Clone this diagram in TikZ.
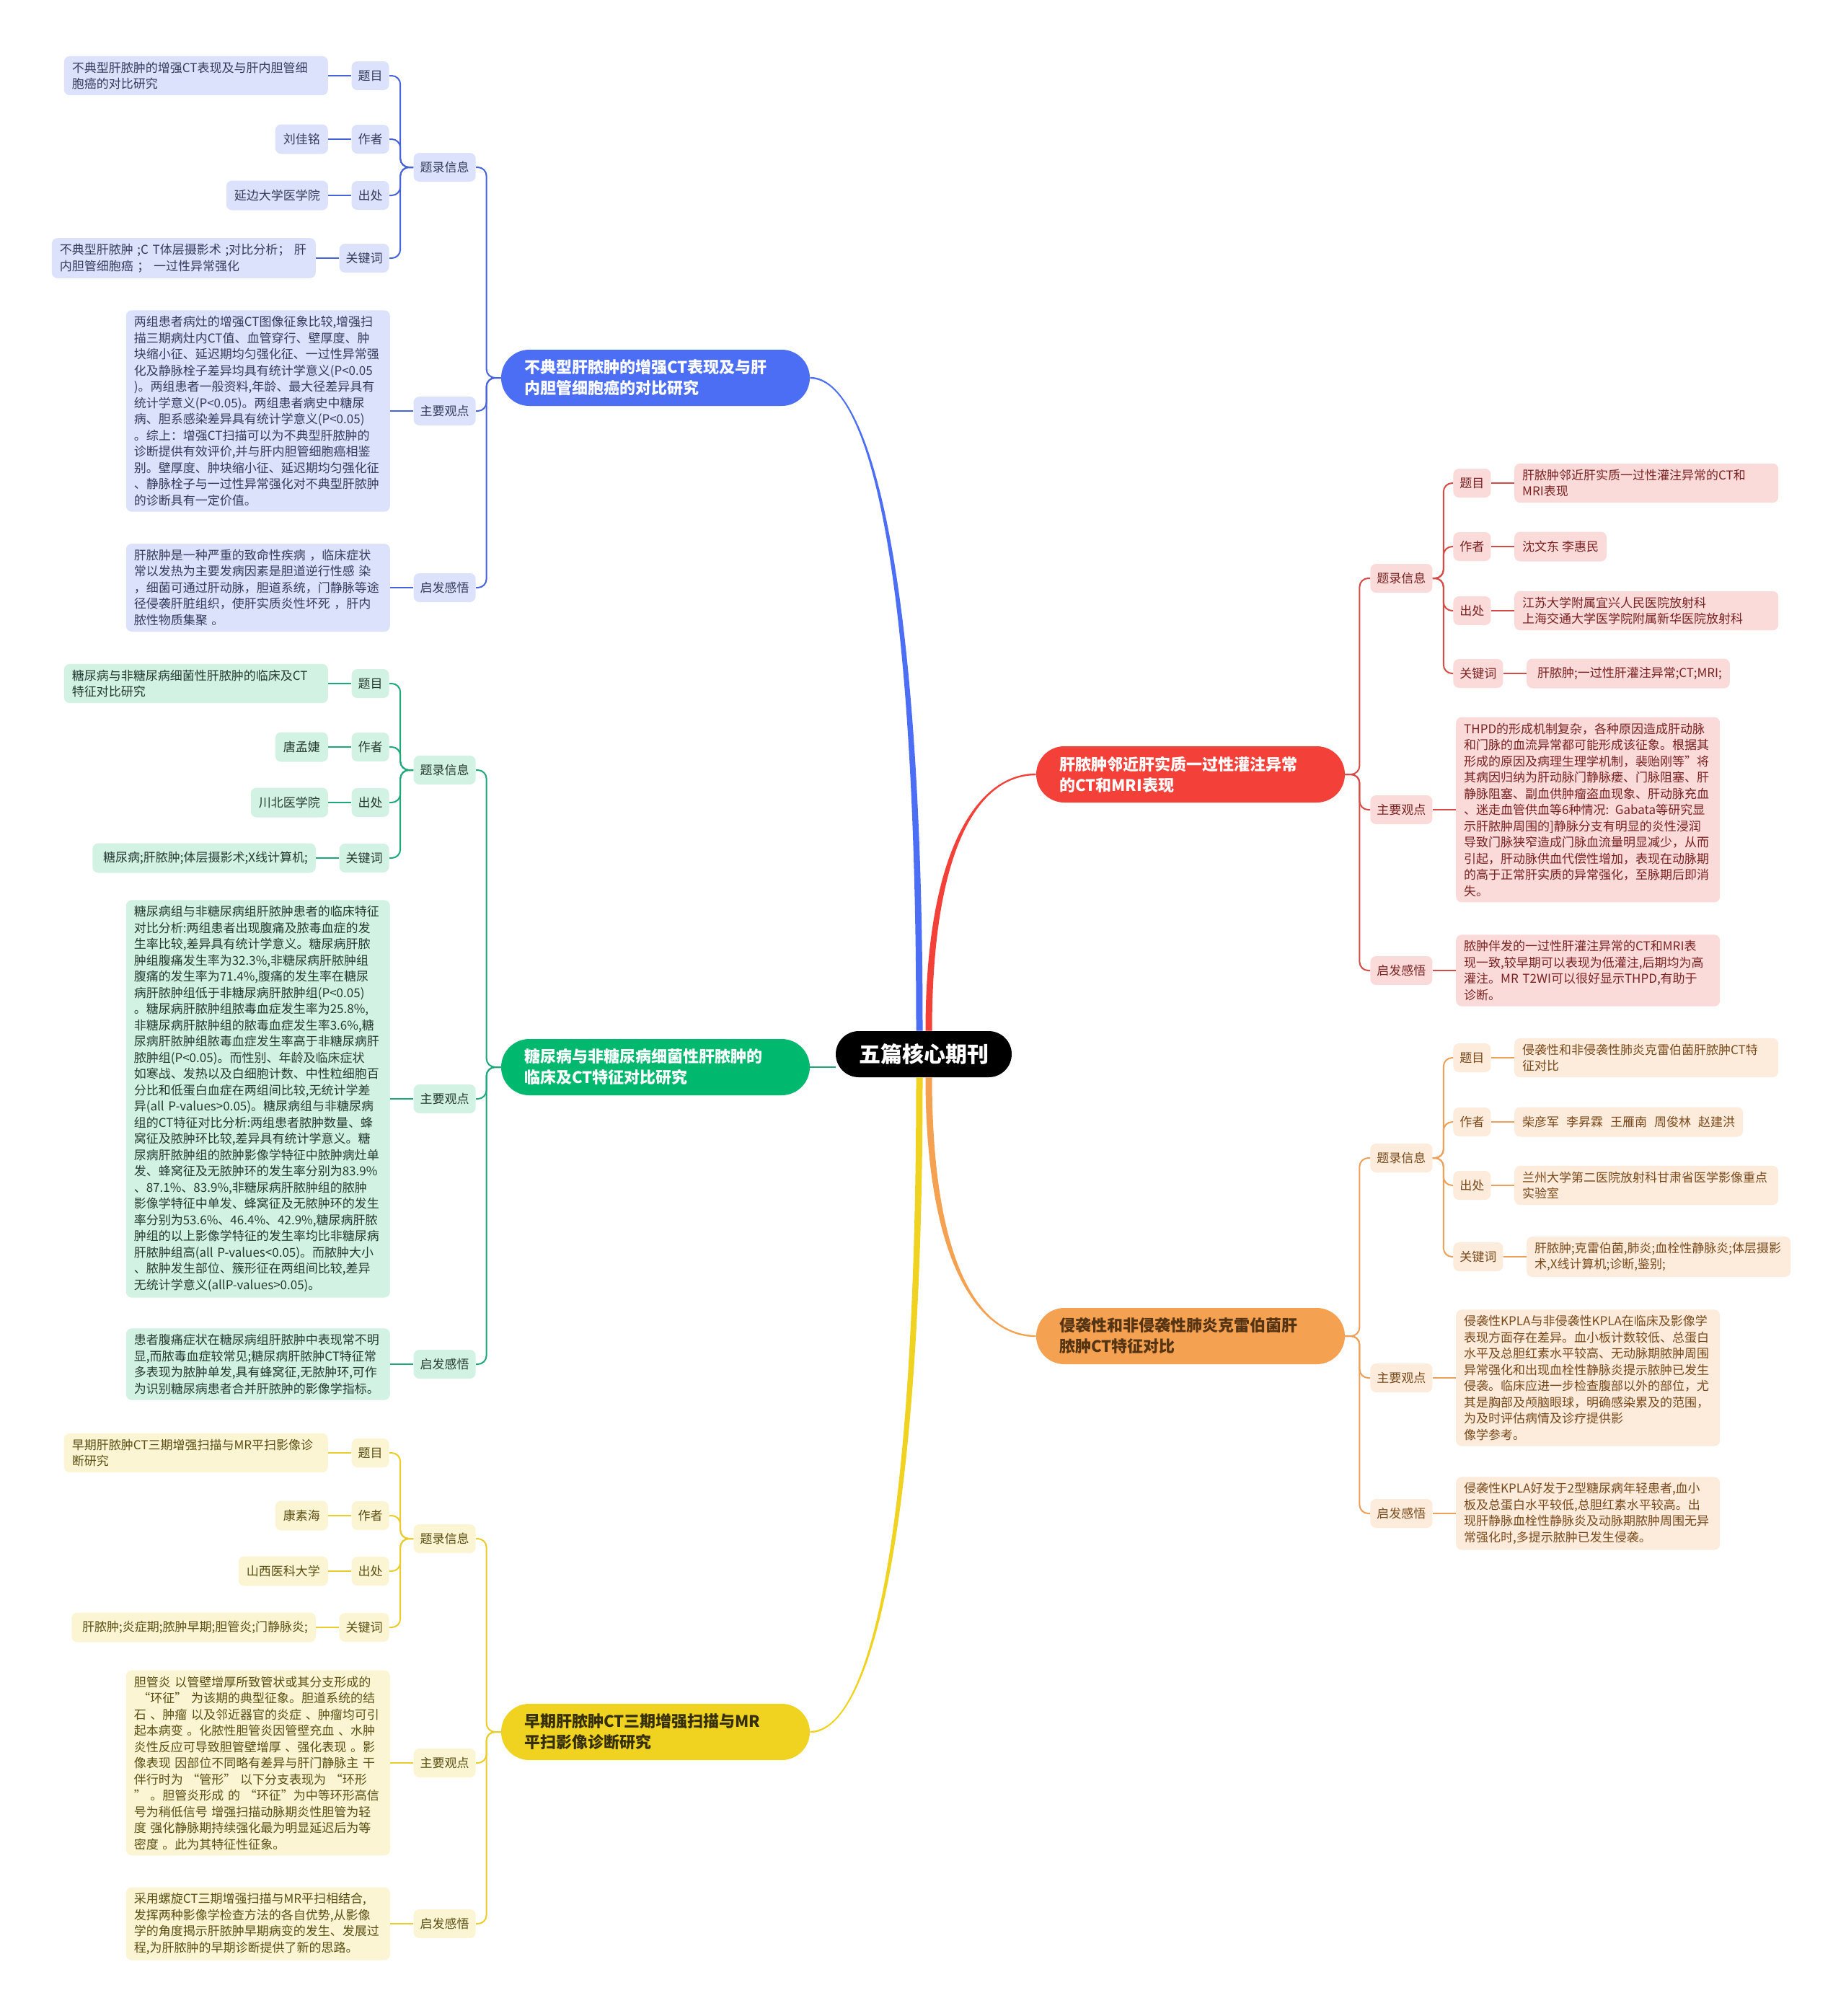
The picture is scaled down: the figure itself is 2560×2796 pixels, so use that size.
\documentclass[tikz,border=0pt]{standalone}
\usepackage{fontspec}
\setmainfont{Noto Sans CJK SC}
\usepackage{tikz}
\usetikzlibrary{positioning,calc}

\definecolor{bluF}{HTML}{4C6EF5}
\definecolor{bluL}{HTML}{DCE2FC}
\definecolor{bluE}{HTML}{4763DB}
\definecolor{bluT}{HTML}{353B5E}
\definecolor{grnF}{HTML}{00B86E}
\definecolor{grnL}{HTML}{D2F2E3}
\definecolor{grnE}{HTML}{1EA878}
\definecolor{grnT}{HTML}{263A32}
\definecolor{ylwF}{HTML}{F0D320}
\definecolor{ylwL}{HTML}{FBF5D3}
\definecolor{ylwE}{HTML}{EACD2C}
\definecolor{ylwT}{HTML}{5A4E12}
\definecolor{redF}{HTML}{F3413A}
\definecolor{redL}{HTML}{FBDADA}
\definecolor{redE}{HTML}{D84A45}
\definecolor{redT}{HTML}{7A2222}
\definecolor{orgF}{HTML}{F5A152}
\definecolor{orgL}{HTML}{FDEBDB}
\definecolor{orgE}{HTML}{EE9F58}
\definecolor{orgT}{HTML}{7A4A1C}

% tapered branch from the centre: colour, start, end, end offsets
\newcommand{\branchline}[5]{%
  \path #2 coordinate (tS) #3 coordinate (tE) (tS |- tE) coordinate (tK);
  \path ($(tS)!0.7!(tK)$) coordinate (tA) ($(tE)!0.55!(tK)$) coordinate (tB);
  \fill[#1] ($(tS)+(-4.5,0)$) .. controls ($(tA)+(-4.5,0)$) and ($(tB)+(0,#4)$) .. ($(tE)+(0,#4)$)
    -- ($(tE)+(0,#5)$) .. controls ($(tB)+(0,#5)$) and ($(tA)+(4.5,0)$) .. ($(tS)+(4.5,0)$) -- cycle;
}

\begin{document}
\begin{tikzpicture}[
  x=0.5pt, y=-0.5pt,
  node distance=16pt,
  every node/.style={font=\fontsize{8.5}{11.25}\selectfont},
  tag/.style={rounded corners=4pt, inner xsep=4.5pt, inner ysep=0pt, minimum height=20pt},
  leaf/.style={rounded corners=4pt, inner xsep=5.5pt, inner ysep=4pt, minimum height=20.5pt, align=left},
  para/.style={leaf, text width=172pt},
  topic/.style={rounded corners=19.5pt, minimum height=39pt, inner xsep=16pt, inner ysep=3pt, text width=182pt, align=left, font=\fontsize{11}{14.5}\selectfont\bfseries},
  lnk/.style={line width=1pt, rounded corners=6pt},
  blu/.style={fill=bluL, text=bluT},
  grn/.style={fill=grnL, text=grnT},
  ylw/.style={fill=ylwL, text=ylwT},
  red/.style={fill=redL, text=redT},
  org/.style={fill=orgL, text=orgT}
]
\fill[white] (0,0) rectangle (2560,2796);
\useasboundingbox (0,0) rectangle (2560,2796);

\node[fill=black, text=white, rounded corners=16pt, minimum width=122pt, minimum height=32pt, font=\fontsize{15}{18}\selectfont\bfseries] (ctr) at (1281,1462) {五篇核心期刊};

% ---- left: CT study (blue)
\node[topic, fill=bluF, text=white] (ct) at (909,524) {不典型肝脓肿的增强CT表现及与肝\\内胆管细胞癌的对比研究};
\node[tag, blu, anchor=east] (ct-info) at (660,232) {题录信息};
\node[tag, blu, anchor=east] (ct-view) at (660,570) {主要观点};
\node[tag, blu, anchor=east] (ct-note) at (660,815) {启发感悟};
\node[tag, blu, anchor=east] (ct-title) at (540,105) {题目};
\node[tag, blu, anchor=east] (ct-author) at (540,193) {作者};
\node[tag, blu, anchor=east] (ct-src) at (540,271) {出处};
\node[tag, blu, anchor=east] (ct-key) at (540,358) {关键词};
\node[para, blu, left=of ct-title] (ct-title-txt) {不典型肝脓肿的增强CT表现及与肝内胆管细\\胞癌的对比研究};
\node[leaf, blu, left=of ct-author] (ct-author-txt) {刘佳铭};
\node[leaf, blu, left=of ct-src] (ct-src-txt) {延边大学医学院};
\node[para, blu, left=of ct-key] (ct-key-txt) {不典型肝脓肿 ;C T体层摄影术 ;对比分析；\ 肝\\内胆管细胞癌 ；\ 一过性异常强化};
\node[para, blu, left=of ct-view] (ct-view-txt) {两组患者病灶的增强CT图像征象比较,增强扫\\描三期病灶内CT值、血管穿行、壁厚度、肿\\块缩小征、延迟期均匀强化征、一过性异常强\\化及静脉栓子差异均具有统计学意义(P<0.05\\)。两组患者一般资料,年龄、最大径差异具有\\统计学意义(P<0.05)。两组患者病史中糖尿\\病、胆系感染差异具有统计学意义(P<0.05)\\。综上：增强CT扫描可以为不典型肝脓肿的\\诊断提供有效评价,并与肝内胆管细胞癌相鉴\\别。壁厚度、肿块缩小征、延迟期均匀强化征\\、静脉栓子与一过性异常强化对不典型肝脓肿\\的诊断具有一定价值。};
\node[para, blu, left=of ct-note] (ct-note-txt) {肝脓肿是一种严重的致命性疾病 ，临床症状\\常以发热为主要发病因素是胆道逆行性感 染\\，细菌可通过肝动脉，胆道系统，门静脉等途\\径侵袭肝脏组织，使肝实质炎性坏死 ，肝内\\脓性物质集聚 。};

% ---- left: diabetes study (green)
\node[topic, fill=grnF, text=white] (dm) at (909,1480) {糖尿病与非糖尿病细菌性肝脓肿的\\临床及CT特征对比研究};
\node[tag, grn, anchor=east] (dm-info) at (660,1068) {题录信息};
\node[tag, grn, anchor=east] (dm-view) at (660,1524) {主要观点};
\node[tag, grn, anchor=east] (dm-note) at (660,1892) {启发感悟};
\node[tag, grn, anchor=east] (dm-title) at (540,948) {题目};
\node[tag, grn, anchor=east] (dm-author) at (540,1036) {作者};
\node[tag, grn, anchor=east] (dm-src) at (540,1113) {出处};
\node[tag, grn, anchor=east] (dm-key) at (540,1190) {关键词};
\node[para, grn, left=of dm-title] (dm-title-txt) {糖尿病与非糖尿病细菌性肝脓肿的临床及CT\\特征对比研究};
\node[leaf, grn, left=of dm-author] (dm-author-txt) {唐孟婕};
\node[leaf, grn, left=of dm-src] (dm-src-txt) {川北医学院};
\node[leaf, grn, left=of dm-key] (dm-key-txt) {\ 糖尿病;肝脓肿;体层摄影术;X线计算机;};
\node[para, grn, left=of dm-view] (dm-view-txt) {糖尿病组与非糖尿病组肝脓肿患者的临床特征\\对比分析:两组患者出现腹痛及脓毒血症的发\\生率比较,差异具有统计学意义。糖尿病肝脓\\肿组腹痛发生率为32.3\%,非糖尿病肝脓肿组\\腹痛的发生率为71.4\%,腹痛的发生率在糖尿\\病肝脓肿组低于非糖尿病肝脓肿组(P<0.05)\\。糖尿病肝脓肿组脓毒血症发生率为25.8\%,\\非糖尿病肝脓肿组的脓毒血症发生率3.6\%,糖\\尿病肝脓肿组脓毒血症发生率高于非糖尿病肝\\脓肿组(P<0.05)。而性别、年龄及临床症状\\如寒战、发热以及白细胞计数、中性粒细胞百\\分比和低蛋白血症在两组间比较,无统计学差\\异(all P-values>0.05)。糖尿病组与非糖尿病\\组的CT特征对比分析:两组患者脓肿数量、蜂\\窝征及脓肿环比较,差异具有统计学意义。糖\\尿病肝脓肿组的脓肿影像学特征中脓肿病灶单\\发、蜂窝征及无脓肿环的发生率分别为83.9\%\\、87.1\%、83.9\%,非糖尿病肝脓肿组的脓肿\\影像学特征中单发、蜂窝征及无脓肿环的发生\\率分别为53.6\%、46.4\%、42.9\%,糖尿病肝脓\\肿组的以上影像学特征的发生率均比非糖尿病\\肝脓肿组高(all P-values<0.05)。而脓肿大小\\、脓肿发生部位、簇形征在两组间比较,差异\\无统计学意义(allP-values>0.05)。};
\node[para, grn, left=of dm-note] (dm-note-txt) {患者腹痛症状在糖尿病组肝脓肿中表现常不明\\显,而脓毒血症较常见;糖尿病肝脓肿CT特征常\\多表现为脓肿单发,具有蜂窝征,无脓肿环,可作\\为识别糖尿病患者合并肝脓肿的影像学指标。};

% ---- left: CT + MR study (yellow)
\node[topic, fill=ylwF, text=ylwT!60!black] (mr) at (909,2402) {早期肝脓肿CT三期增强扫描与MR\\平扫影像诊断研究};
\node[tag, ylw, anchor=east] (mr-info) at (660,2134) {题录信息};
\node[tag, ylw, anchor=east] (mr-view) at (660,2445) {主要观点};
\node[tag, ylw, anchor=east] (mr-note) at (660,2668) {启发感悟};
\node[tag, ylw, anchor=east] (mr-title) at (540,2015) {题目};
\node[tag, ylw, anchor=east] (mr-author) at (540,2102) {作者};
\node[tag, ylw, anchor=east] (mr-src) at (540,2179) {出处};
\node[tag, ylw, anchor=east] (mr-key) at (540,2257) {关键词};
\node[para, ylw, left=of mr-title] (mr-title-txt) {早期肝脓肿CT三期增强扫描与MR平扫影像诊\\断研究};
\node[leaf, ylw, left=of mr-author] (mr-author-txt) {康素海};
\node[leaf, ylw, left=of mr-src] (mr-src-txt) {山西医科大学};
\node[leaf, ylw, left=of mr-key] (mr-key-txt) {\ 肝脓肿;炎症期;脓肿早期;胆管炎;门静脉炎;};
\node[para, ylw, left=of mr-view] (mr-view-txt) {胆管炎 以管壁增厚所致管状或其分支形成的\\\ “环征”\ 为该期的典型征象。胆道系统的结\\石 、肿瘤 以及邻近器官的炎症 、肿瘤均可引\\起本病变 。化脓性胆管炎因管壁充血 、水肿\\炎性反应可导致胆管壁增厚 、强化表现 。影\\像表现 因部位不同略有差异与肝门静脉主 干\\伴行时为 “管形” 以下分支表现为 “环形\\” 。胆管炎形成 的 “环征”为中等环形高信\\号为稍低信号 增强扫描动脉期炎性胆管为轻\\度 强化静脉期持续强化最为明显延迟后为等\\密度 。此为其特征性征象。};
\node[para, ylw, left=of mr-note] (mr-note-txt) {采用螺旋CT三期增强扫描与MR平扫相结合,\\发挥两种影像学检查方法的各自优势,从影像\\学的角度揭示肝脓肿早期病变的发生、发展过\\程,为肝脓肿的早期诊断提供了新的思路。};

% ---- right: perfusion study (red)
\node[topic, fill=redF, text=white] (thpd) at (1651,1074) {肝脓肿邻近肝实质一过性灌注异常\\的CT和MRI表现};
\node[tag, red, anchor=west] (thpd-info) at (1900,802) {题录信息};
\node[tag, red, anchor=west] (thpd-view) at (1900,1123) {主要观点};
\node[tag, red, anchor=west] (thpd-note) at (1900,1346) {启发感悟};
\node[tag, red, anchor=west] (thpd-title) at (2015,670) {题目};
\node[tag, red, anchor=west] (thpd-author) at (2015,758) {作者};
\node[tag, red, anchor=west] (thpd-src) at (2015,847) {出处};
\node[tag, red, anchor=west] (thpd-key) at (2015,934) {关键词};
\node[para, red, right=of thpd-title] (thpd-title-txt) {肝脓肿邻近肝实质一过性灌注异常的CT和\\MRI表现};
\node[leaf, red, right=of thpd-author] (thpd-author-txt) {沈文东 李惠民};
\node[para, red, right=of thpd-src] (thpd-src-txt) {江苏大学附属宜兴人民医院放射科\\上海交通大学医学院附属新华医院放射科};
\node[leaf, red, right=of thpd-key] (thpd-key-txt) {\ 肝脓肿;一过性肝灌注异常;CT;MRI;};
\node[para, red, right=of thpd-view] (thpd-view-txt) {THPD的形成机制复杂，各种原因造成肝动脉\\和门脉的血流异常都可能形成该征象。根据其\\形成的原因及病理生理学机制，裴贻刚等”将\\其病因归纳为肝动脉门静脉瘘、门脉阻塞、肝\\静脉阻塞、副血供肿瘤盗血现象、肝动脉充血\\、迷走血管供血等6种情况: Gabata等研究显\\示肝脓肿周围的]静脉分支有明显的炎性浸润\\导致门脉狭窄造成门脉血流量明显减少，从而\\引起，肝动脉供血代偿性增加，表现在动脉期\\的高于正常肝实质的异常强化，至脉期后即消\\失。};
\node[para, red, right=of thpd-note] (thpd-note-txt) {脓肿伴发的一过性肝灌注异常的CT和MRI表\\现一致,较早期可以表现为低灌注,后期均为高\\灌注。MR T2WI可以很好显示THPD,有助于\\诊断。};

% ---- right: KPLA study (orange)
\node[topic, fill=orgF, text=orgT!70!black] (kpla) at (1651,1853) {侵袭性和非侵袭性肺炎克雷伯菌肝\\脓肿CT特征对比};
\node[tag, org, anchor=west] (kpla-info) at (1900,1606) {题录信息};
\node[tag, org, anchor=west] (kpla-view) at (1900,1911) {主要观点};
\node[tag, org, anchor=west] (kpla-note) at (1900,2099) {启发感悟};
\node[tag, org, anchor=west] (kpla-title) at (2015,1467) {题目};
\node[tag, org, anchor=west] (kpla-author) at (2015,1556) {作者};
\node[tag, org, anchor=west] (kpla-src) at (2015,1644) {出处};
\node[tag, org, anchor=west] (kpla-key) at (2015,1743) {关键词};
\node[para, org, right=of kpla-title] (kpla-title-txt) {侵袭性和非侵袭性肺炎克雷伯菌肝脓肿CT特\\征对比};
\node[leaf, org, right=of kpla-author] (kpla-author-txt) {柴彦军\hspace{5pt}李昇霖\hspace{5pt}王雁南\hspace{5pt}周俊林\hspace{5pt}赵建洪};
\node[para, org, right=of kpla-src] (kpla-src-txt) {兰州大学第二医院放射科甘肃省医学影像重点\\实验室};
\node[para, org, right=of kpla-key] (kpla-key-txt) {肝脓肿;克雷伯菌,肺炎;血栓性静脉炎;体层摄影\\术,X线计算机;诊断,鉴别;};
\node[para, org, right=of kpla-view] (kpla-view-txt) {侵袭性KPLA与非侵袭性KPLA在临床及影像学\\表现方面存在差异。血小板计数较低、总蛋白\\水平及总胆红素水平较高、无动脉期脓肿周围\\异常强化和出现血栓性静脉炎提示脓肿已发生\\侵袭。临床应进一步检查腹部以外的部位，尤\\其是胸部及颅脑眼球，明确感染累及的范围，\\为及时评估病情及诊疗提供影\\像学参考。};
\node[para, org, right=of kpla-note] (kpla-note-txt) {侵袭性KPLA好发于2型糖尿病年轻患者,血小\\板及总蛋白水平较低,总胆红素水平较高。出\\现肝静脉血栓性静脉炎及动脉期脓肿周围无异\\常强化时,多提示脓肿已发生侵袭。};

% branches from the centre
\branchline{bluF}{($(ctr.north)+(-6,0)$)}{(ct.east)}{1.2}{-1.2}
\branchline{redF}{($(ctr.north)+(7,0)$)}{(thpd.west)}{-1.2}{1.2}
\branchline{ylwF}{($(ctr.south)+(-6,0)$)}{(mr.east)}{-1.2}{1.2}
\branchline{orgF}{($(ctr.south)+(7,0)$)}{(kpla.west)}{1.2}{-1.2}
\draw[line width=1.2pt, grnE] (dm.east) -- (dm.east -| ctr.west);

% left side connectors
\foreach \t/\c in {ct/bluE, dm/grnE, mr/ylwE} {
  \foreach \k in {info,view,note}
    \draw[lnk, \c] (\t.west) -- ++(-20,0) |- (\t-\k.east);
  \foreach \k in {title,author,src,key}
    \draw[lnk, \c] (\t-info.west) -- ++(-18,0) |- (\t-\k.east);
  \foreach \k in {title,author,src,key,view,note}
    \draw[lnk, \c] (\t-\k.west) -- (\t-\k-txt.east);
}

% right side connectors
\foreach \t/\c in {thpd/redE, kpla/orgE} {
  \foreach \k in {info,view,note}
    \draw[lnk, \c] (\t.east) -- ++(20,0) |- (\t-\k.west);
  \foreach \k in {title,author,src,key}
    \draw[lnk, \c] (\t-info.east) -- ++(15,0) |- (\t-\k.west);
  \foreach \k in {title,author,src,key,view,note}
    \draw[lnk, \c] (\t-\k.east) -- (\t-\k-txt.west);
}
\end{tikzpicture}
\end{document}
